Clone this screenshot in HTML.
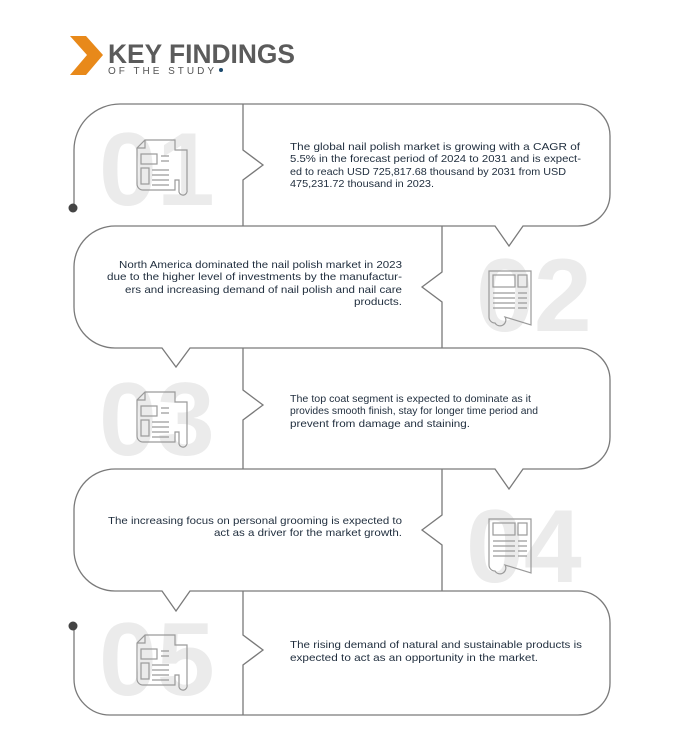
<!DOCTYPE html>
<html><head><meta charset="utf-8"><style>
html,body{margin:0;padding:0;background:#fff;}
svg{display:block;}
.t{font-family:"Liberation Sans",sans-serif;font-size:10.3px;fill:#1f2d3d;}
.n{font-family:"Liberation Sans",sans-serif;font-weight:bold;font-size:104px;fill:#ebebeb;}
</style></head><body>
<svg width="690" height="745" viewBox="0 0 690 745" xmlns="http://www.w3.org/2000/svg">
<defs>
<g id="ic1" fill="none" stroke="#9a9a9a" stroke-width="1.2">
  <path d="M8,0 H38 V10 H50 V50 A4,4 0 0 1 42,52 V40 H38 V50 H6 A6,6 0 0 1 0,44 V8 Z"/>
  <path d="M0,8 L8,8 L8,0"/>
  <rect x="4" y="14" width="16" height="10"/><rect x="4" y="28" width="8" height="16"/>
  <path d="M24,16H32M24,21H32M15,30H32M15,35H32M15,40H32M15,45H32"/>
</g>
<g id="ic2" fill="none" stroke="#9a9a9a" stroke-width="1.2">
  <path d="M0,0 H42 V54 L16,46 A5,5 0 0 1 6,52 A6,6 0 0 1 0,46 Z"/>
  <rect x="4" y="4" width="22" height="12"/><rect x="29" y="4" width="9" height="12"/>
  <path d="M4,22H26M4,27H26M4,32H26M4,37H26M29,22H38M29,27H38M29,32H38M29,37H38"/>
</g>
</defs>
<!-- header -->
<path d="M70,36 H86 L103,55 L86,75 H70 L87,55 Z" fill="#e8891a"/>
<text x="108" y="63" font-family="Liberation Sans,sans-serif" font-weight="bold" font-size="27" fill="#5b5b5b" textLength="187" lengthAdjust="spacingAndGlyphs">KEY FINDINGS</text>
<text x="108" y="74" font-family="Liberation Sans,sans-serif" font-size="10" fill="#555" textLength="106" lengthAdjust="spacing">OF THE STUDY</text>
<circle cx="221" cy="70" r="2" fill="#1b4a6e"/>

<!-- numbers -->
<text class="n" x="99" y="205">01</text>
<text class="n" x="476" y="331">02</text>
<text class="n" x="99" y="455">03</text>
<text class="n" x="466" y="582">04</text>
<text class="n" x="99" y="695">05</text>
<use href="#ic1" x="137" y="140"/>
<use href="#ic2" x="489" y="271"/>
<use href="#ic1" x="137" y="392"/>
<use href="#ic2" x="489" y="519"/>
<use href="#ic1" x="137" y="635"/>

<!-- outlines -->
<g fill="none" stroke="#7a7a7a" stroke-width="1.3">
<path d="M74,208 V150 A46,46 0 0 1 120,104 H578 A32,32 0 0 1 610,136 V194 A32,32 0 0 1 578,226 H523 L509,246 L495,226 H115 A41,41 0 0 0 74,267 V307 A41,41 0 0 0 115,348 H162 L176,367 L190,348 H578 A32,32 0 0 1 610,380 V437 A32,32 0 0 1 578,469 H523 L509,489 L495,469 H115 A41,41 0 0 0 74,510 V550 A41,41 0 0 0 115,591 H162 L176,611 L190,591 H578 A32,32 0 0 1 610,623 V683 A32,32 0 0 1 578,715 H110 A36,36 0 0 1 74,679 V627"/>
<path d="M243,104 V150 L263,165 L243,180 V226"/>
<path d="M442,226 V272 L422,287 L442,302 V348"/>
<path d="M243,348 V390 L263,405 L243,420 V469"/>
<path d="M442,469 V515 L422,530 L442,545 V591"/>
<path d="M243,591 V635 L263,650 L243,665 V715"/>
</g>
<circle cx="73" cy="208" r="4.5" fill="#444"/>
<circle cx="73" cy="626" r="4.5" fill="#444"/>

<!-- texts -->
<g class="t" lengthAdjust="spacingAndGlyphs">
<text x="290" y="150" textLength="290" lengthAdjust="spacingAndGlyphs">The global nail polish market is growing with a CAGR of</text>
<text x="290" y="162" textLength="291" lengthAdjust="spacingAndGlyphs">5.5%  in the forecast period of 2024 to 2031 and is expect-</text>
<text x="290" y="175" textLength="276" lengthAdjust="spacingAndGlyphs">ed to reach USD 725,817.68 thousand  by 2031 from USD</text>
<text x="290" y="187" textLength="144" lengthAdjust="spacingAndGlyphs">475,231.72  thousand in 2023.</text>
</g>
<g class="t">
<text x="119" y="268" textLength="283" lengthAdjust="spacingAndGlyphs">North America dominated the nail polish market in 2023</text>
<text x="107" y="280" textLength="295" lengthAdjust="spacingAndGlyphs">due to the higher level of investments by the manufactur-</text>
<text x="125" y="293" textLength="277" lengthAdjust="spacingAndGlyphs">ers and increasing demand of nail polish and nail care</text>
<text x="354" y="305" textLength="48" lengthAdjust="spacingAndGlyphs">products.</text>
<text x="108" y="524" textLength="294" lengthAdjust="spacingAndGlyphs">The increasing focus on personal grooming is expected to</text>
<text x="214" y="536" textLength="188" lengthAdjust="spacingAndGlyphs">act as a driver for the market growth.</text>
</g>
<g class="t">
<text x="290" y="402" textLength="241" lengthAdjust="spacingAndGlyphs">The top coat segment is expected to dominate as it</text>
<text x="290" y="414" textLength="248" lengthAdjust="spacingAndGlyphs">provides smooth finish, stay for longer time period and</text>
<text x="290" y="427" textLength="180" lengthAdjust="spacingAndGlyphs">prevent from damage and staining.</text>
<text x="290" y="648" textLength="292" lengthAdjust="spacingAndGlyphs">The rising demand of natural and sustainable products is</text>
<text x="290" y="661" textLength="248" lengthAdjust="spacingAndGlyphs">expected to act as an opportunity in the market.</text>
</g>
</svg>
</body></html>
